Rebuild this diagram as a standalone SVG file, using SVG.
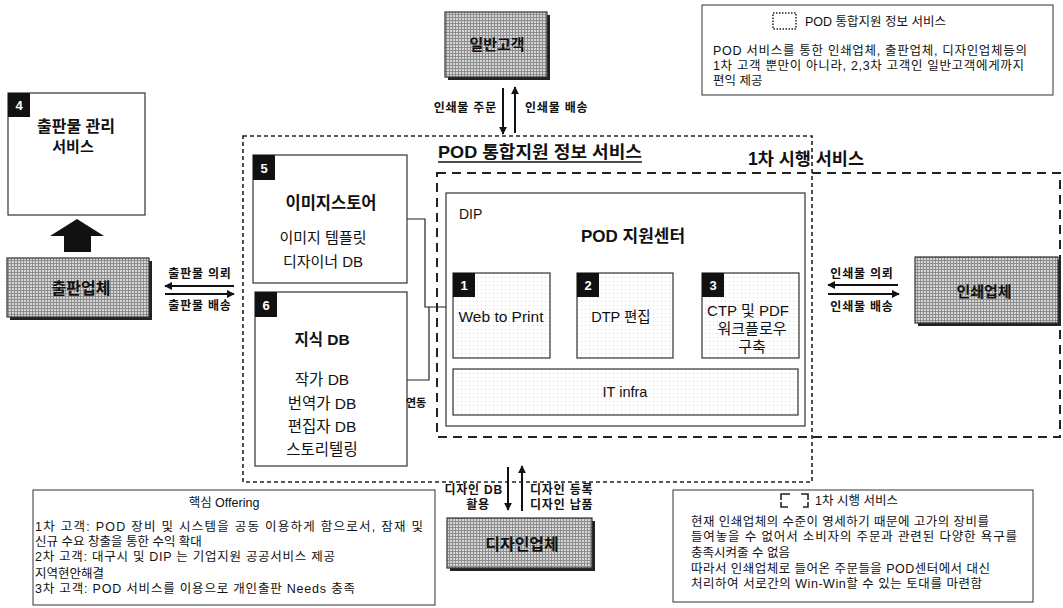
<svg xmlns="http://www.w3.org/2000/svg" width="1063" height="608" viewBox="0 0 1063 608">
<style>
text{font-family:"Liberation Sans","Noto Sans CJK KR",sans-serif;fill:#111}
.b{font-weight:bold}
.box{fill:#fff;stroke:#333;stroke-width:1.2}
.st{fill:url(#stip);stroke:#333;stroke-width:1.2}
.gr{fill:url(#hatch);stroke:#333;stroke-width:1.2}
.sh{fill:#222}
.num{fill:#111}
.numt{fill:#fff;font-weight:bold;font-size:13px}
.con{fill:none;stroke:#222;stroke-width:1.2}
.arr{fill:none;stroke:#111;stroke-width:2}
.lbl{font-size:12px;font-weight:bold;letter-spacing:0.8px}
.leg{font-size:12.5px}
</style>
<defs>
<pattern id="hatch" width="3" height="3" patternUnits="userSpaceOnUse"><rect width="3" height="3" fill="#8e8e8e"/><rect width="2" height="2" fill="#d6d6d6"/></pattern>
<pattern id="stip" width="4" height="4" patternUnits="userSpaceOnUse"><rect width="4" height="4" fill="#fff"/><rect x="1" y="1" width="1" height="1" fill="#d8d8d8"/></pattern>
<marker id="ah" viewBox="0 0 10 10" refX="9" refY="5" markerWidth="4" markerHeight="4" orient="auto"><path d="M0,0 L10,5 L0,10 z" fill="#111"/></marker>
</defs>
<rect width="1063" height="608" fill="#fff"/>

<g id="pod-service-area">
<rect x="243" y="136" width="569" height="346" fill="none" stroke="#222" stroke-width="1.6" stroke-dasharray="4 3"/>
<text x="540" y="158" class="b" font-size="17" text-anchor="middle" textLength="204" lengthAdjust="spacingAndGlyphs">POD 통합지원 정보 서비스</text>
<line x1="438" y1="162" x2="642" y2="162" stroke="#111" stroke-width="1.3"/>
</g>
<g id="first-service-area">
<path d="M437,173 H1060 V437 H437 Z" fill="none" stroke="#222" stroke-width="2" stroke-dasharray="9 6"/>
<text x="806" y="165" class="b" font-size="17.5" text-anchor="middle">1차 시행 서비스</text>
</g>

<g id="dip">
<rect x="446" y="193" width="359" height="233" class="box"/>
<text x="459" y="219" font-size="14">DIP</text>
<text x="633" y="242" class="b" font-size="17" text-anchor="middle">POD 지원센터</text>
</g>
<g id="node1">
<rect x="453" y="273" width="97" height="85" class="st"/>
<rect x="453" y="273" width="22" height="24" class="num"/>
<text x="464" y="290" class="numt" text-anchor="middle">1</text>
<text x="501" y="322" font-size="15.5" text-anchor="middle">Web to Print</text>
</g>
<g id="node2">
<rect x="577" y="273" width="96" height="85" class="st"/>
<rect x="577" y="273" width="22" height="24" class="num"/>
<text x="588" y="290" class="numt" text-anchor="middle">2</text>
<text x="621" y="322" font-size="14.5" text-anchor="middle">DTP 편집</text>
</g>
<g id="node3">
<rect x="702" y="273" width="97" height="85" class="st"/>
<rect x="702" y="273" width="22" height="24" class="num"/>
<text x="713" y="290" class="numt" text-anchor="middle">3</text>
<text x="748" y="316" font-size="15" text-anchor="middle">CTP 및 PDF</text>
<text x="752" y="334" font-size="15" text-anchor="middle">워크플로우</text>
<text x="752" y="352" font-size="15" text-anchor="middle">구축</text>
</g>
<g id="it-infra">
<rect x="453" y="369" width="345" height="46" class="st"/>
<text x="625" y="397" font-size="14.5" text-anchor="middle">IT infra</text>
</g>

<g id="node5">
<rect x="253" y="155" width="154" height="128" class="box"/>
<rect x="253" y="155" width="22" height="25" class="num"/>
<text x="264" y="173" class="numt" text-anchor="middle">5</text>
<text x="331" y="209" class="b" font-size="16.5" text-anchor="middle">이미지스토어</text>
<text x="323" y="243" font-size="15" text-anchor="middle">이미지 템플릿</text>
<text x="323" y="267" font-size="15" text-anchor="middle">디자이너 DB</text>
</g>
<g id="node6">
<rect x="255" y="292" width="152" height="174" class="box"/>
<rect x="255" y="292" width="22" height="25" class="num"/>
<text x="266" y="310" class="numt" text-anchor="middle">6</text>
<text x="322" y="345" class="b" font-size="15.5" text-anchor="middle">지식 DB</text>
<text x="322" y="385" font-size="15.5" text-anchor="middle">작가 DB</text>
<text x="322" y="409" font-size="15.5" text-anchor="middle">번역가 DB</text>
<text x="322" y="432" font-size="15.5" text-anchor="middle">편집자 DB</text>
<text x="322" y="455" font-size="15.5" text-anchor="middle">스토리텔링</text>
</g>

<g id="node4">
<rect x="8" y="93" width="137" height="122" class="box"/>
<rect x="8" y="93" width="22" height="24" class="num"/>
<text x="19" y="110" class="numt" text-anchor="middle">4</text>
<text x="76" y="132" class="b" font-size="16" text-anchor="middle">출판물 관리</text>
<text x="73" y="152" class="b" font-size="15" text-anchor="middle">서비스</text>
</g>

<g id="publisher">
<rect x="10" y="261" width="142" height="59" class="sh"/>
<rect x="7" y="258" width="142" height="59" class="gr"/>
<text x="81" y="294" class="b" font-size="16" text-anchor="middle">출판업체</text>
</g>
<g id="customer">
<rect x="448" y="15" width="102" height="65" class="sh"/>
<rect x="445" y="12" width="102" height="65" class="gr"/>
<text x="497" y="50" class="b" font-size="15" text-anchor="middle">일반고객</text>
</g>
<g id="printer">
<rect x="918" y="260" width="143" height="66" class="sh"/>
<rect x="915" y="257" width="143" height="66" class="gr"/>
<text x="984" y="297" class="b" font-size="15" text-anchor="middle">인쇄업체</text>
</g>
<g id="designer">
<rect x="450" y="521" width="145" height="50" class="sh"/>
<rect x="447" y="518" width="145" height="50" class="gr"/>
<text x="522" y="550" class="b" font-size="16" text-anchor="middle">디자인업체</text>
</g>

<g id="legend-pod">
<rect x="702" y="5" width="351" height="90" fill="#fff" stroke="#333" stroke-width="1"/>
<rect x="773" y="13" width="23" height="16" fill="none" stroke="#222" stroke-width="1.5" stroke-dasharray="1.5 1.5"/>
<text x="805" y="26" class="leg">POD 통합지원 정보 서비스</text>
<text x="713" y="55" class="leg" textLength="314" lengthAdjust="spacing">POD 서비스를 통한 인쇄업체, 출판업체, 디자인업체등의</text>
<text x="713" y="70" class="leg" textLength="311" lengthAdjust="spacing">1차 고객 뿐만이 아니라, 2,3차 고객인 일반고객에게까지</text>
<text x="713" y="85" class="leg">편익 제공</text>
</g>
<g id="legend-offering">
<rect x="33" y="490" width="402" height="115" fill="#fff" stroke="#333" stroke-width="1"/>
<text x="224" y="507" class="leg" text-anchor="middle">핵심 Offering</text>
<text x="35" y="531" class="leg" textLength="388" lengthAdjust="spacing">1차 고객: POD 장비 및 시스템을 공동 이용하게 함으로서, 잠재 및</text>
<text x="35" y="546" class="leg">신규 수요 창출을 통한 수익 확대</text>
<text x="35" y="561" class="leg" textLength="300" lengthAdjust="spacing">2차 고객: 대구시 및 DIP 는 기업지원 공공서비스 제공</text>
<text x="35" y="578" class="leg">지역현안해결</text>
<text x="35" y="593" class="leg" textLength="320" lengthAdjust="spacing">3차 고객: POD 서비스를 이용으로 개인출판 Needs 충족</text>
</g>
<g id="legend-first">
<rect x="673" y="490" width="360" height="112" fill="#fff" stroke="#333" stroke-width="1"/>
<path d="M781,500 V494 H790 M801,494 H808 V500 M781,502 V507 H788 M803,507 H808 V502" fill="none" stroke="#222" stroke-width="1.6"/>
<text x="815" y="505" class="leg">1차 시행 서비스</text>
<text x="691" y="526" class="leg" textLength="298" lengthAdjust="spacing">현재 인쇄업체의 수준이 영세하기 때문에 고가의 장비를</text>
<text x="691" y="541" class="leg" textLength="326" lengthAdjust="spacing">들여놓을 수 없어서 소비자의 주문과 관련된 다양한 욕구를</text>
<text x="691" y="557" class="leg">충족시켜줄 수 없음</text>
<text x="691" y="573" class="leg" textLength="299" lengthAdjust="spacing">따라서 인쇄업체로 들어온 주문들을 POD센터에서 대신</text>
<text x="691" y="588" class="leg" textLength="291" lengthAdjust="spacing">처리하여 서로간의 Win-Win할 수 있는 토대를 마련함</text>
</g>

<g id="connectors">
<polyline points="407,219 425,219 425,307 446,307" class="con"/>
<polyline points="407,380 429,380 429,307" class="con"/>
<text x="416" y="407" class="b" font-size="11" text-anchor="middle">연동</text>
<polygon points="77,219 50,236 64,236 64,252 91,252 91,236 104,236" fill="#111"/>
<line x1="503" y1="88" x2="503" y2="134" class="arr" marker-end="url(#ah)"/>
<line x1="515" y1="133" x2="515" y2="87" class="arr" marker-end="url(#ah)"/>
<text x="497" y="112" class="lbl" text-anchor="end">인쇄물 주문</text>
<text x="525" y="112" class="lbl">인쇄물 배송</text>
<line x1="234" y1="286" x2="165" y2="286" class="arr" marker-end="url(#ah)"/>
<line x1="165" y1="294" x2="234" y2="294" class="arr" marker-end="url(#ah)"/>
<text x="200" y="278" class="lbl" text-anchor="middle">출판물 의뢰</text>
<text x="200" y="310" class="lbl" text-anchor="middle">출판물 배송</text>
<line x1="898" y1="285" x2="828" y2="285" class="arr" marker-end="url(#ah)"/>
<line x1="828" y1="294" x2="899" y2="294" class="arr" marker-end="url(#ah)"/>
<text x="862" y="278" class="lbl" text-anchor="middle">인쇄물 의뢰</text>
<text x="862" y="311" class="lbl" text-anchor="middle">인쇄물 배송</text>
<line x1="508" y1="467" x2="508" y2="510" class="arr" marker-end="url(#ah)"/>
<line x1="522" y1="511" x2="522" y2="466" class="arr" marker-end="url(#ah)"/>
<text x="503" y="494" class="lbl" text-anchor="end">디자인 DB</text>
<text x="478" y="509" class="lbl" text-anchor="middle">활용</text>
<text x="530" y="494" class="lbl">디자인 등록</text>
<text x="530" y="509" class="lbl">디자인 납품</text>
</g>
</svg>
